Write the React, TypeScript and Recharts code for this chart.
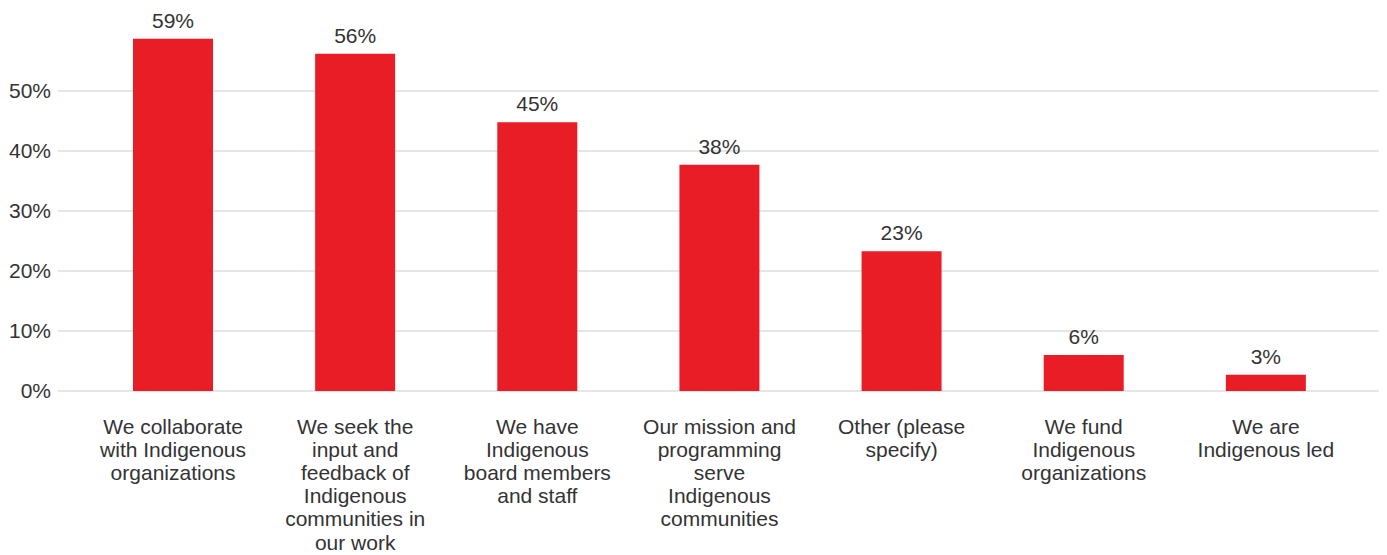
import React from "react";
import { BarChart, Bar, XAxis, YAxis, CartesianGrid, LabelList } from "recharts";

const categories: string[] = [
  "We collaborate\nwith Indigenous\norganizations",
  "We seek the\ninput and\nfeedback of\nIndigenous\ncommunities in\nour work",
  "We have\nIndigenous\nboard members\nand staff",
  "Our mission and\nprogramming\nserve\nIndigenous\ncommunities",
  "Other (please\nspecify)",
  "We fund\nIndigenous\norganizations",
  "We are\nIndigenous led",
];
const values: number[] = [58.7, 56.2, 44.8, 37.7, 23.3, 6.0, 2.7];
const yTicks: number[] = [0, 10, 20, 30, 40, 50];

const data = categories.map((c, i) => ({ name: c, value: values[i] }));

const TEXT = "#333333";
const FONT = "'Liberation Sans', Arial, sans-serif";

const CategoryTick = (props: any) => {
  const { x, y, payload } = props;
  const lines: string[] = String(payload.value).split("\n");
  return (
    <text x={x} y={y} textAnchor="middle" fill={TEXT} fontSize={21} fontFamily={FONT}>
      {lines.map((l, i) => (
        <tspan key={i} x={x} dy={i === 0 ? 42.5 : 23.2}>
          {l}
        </tspan>
      ))}
    </text>
  );
};

export default function App() {
  return (
    <BarChart
      width={1379}
      height={547}
      data={data}
      margin={{ top: 23, right: 6, bottom: 0, left: 0 }}
      style={{ fontFamily: FONT }}
    >
      <CartesianGrid vertical={false} horizontalValues={yTicks} stroke="#e6e6e6" strokeWidth={2} />
      <XAxis
        dataKey="name"
        axisLine={false}
        tickLine={false}
        tickSize={0}
        tickMargin={0}
        height={164}
        interval={0}
        padding={{ left: 24, right: 24 }}
        tick={<CategoryTick />}
      />
      <YAxis
        width={50}
        domain={[0, 60]}
        ticks={yTicks}
        axisLine={false}
        tickLine={false}
        tickSize={0}
        tickMargin={7}
        tickFormatter={(v: number) => `${v}%`}
        tick={{ fill: TEXT, fontSize: 21, fontFamily: FONT }}
      />
      <Bar dataKey="value" fill="#E81D25" barSize={80} isAnimationActive={false}>
        <LabelList
          dataKey="value"
          position="top"
          offset={11}
          formatter={(v: any) => `${Math.round(Number(v))}%`}
          style={{ fill: TEXT, fontSize: 21, fontFamily: FONT }}
        />
      </Bar>
    </BarChart>
  );
}
